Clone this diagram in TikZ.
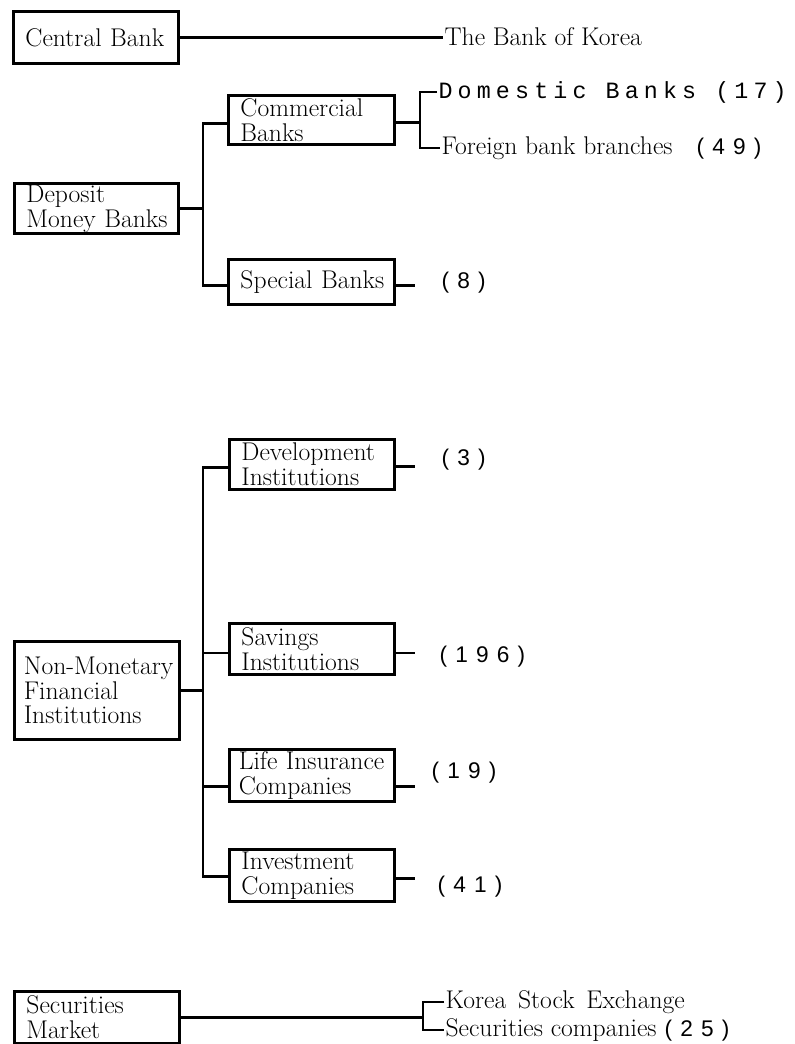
\documentclass[tikz,border=0pt]{standalone}
\usepackage{fontspec}
\newfontfamily\spnum[LetterSpace=36]{Liberation Sans}
\newfontfamily\dommono[LetterSpace=22]{Liberation Mono}
\newcommand{\mainfnt}{\fontsize{19.2}{18.6}\selectfont}
\newcommand{\numfnt}{\spnum\fontsize{17}{17}\selectfont}
\newcommand{\oneline}[1]{\mbox{#1}}
\begin{document}
\begin{tikzpicture}[x=0.75pt,y=-0.75pt,
  box/.style={draw, line width=2.2pt, anchor=north west, align=left, inner xsep=9pt, inner ysep=0pt, font=\mainfnt},
  conn/.style={line width=2.2pt},
  lbl/.style={anchor=west, inner sep=1pt, font=\mainfnt},
  num/.style={anchor=west, inner sep=1pt, font=\numfnt}]
\useasboundingbox (0,0) rectangle (794,1044);
\fill[white] (0,0) rectangle (794,1044);

% boxes
\node[box, text width=105.75pt, minimum height=39pt] (cb) at (12,10) {\oneline{Central Bank}};
\node[box, text width=106.5pt, minimum height=36.75pt] (com) at (227,94) {\oneline{Commercial}\\\oneline{Banks}};
\node[box, text width=105pt, minimum height=37.5pt] (dep) at (13,182) {\oneline{Deposit}\\\oneline{Money Banks}};
\node[box, text width=106.5pt, minimum height=33.75pt] (spec) at (227,258) {\oneline{Special Banks}};
\node[box, text width=105.75pt, minimum height=37.5pt] (dev) at (228,438) {\oneline{Development}\\\oneline{Institutions}};
\node[box, text width=105.75pt, minimum height=38.25pt] (sav) at (228,622) {\oneline{Savings}\\\oneline{Institutions}};
\node[box, inner xsep=7pt, text width=109.75pt, minimum height=73.5pt] (nmf) at (13,640) {\oneline{Non-Monetary}\\\oneline{Financial}\\\oneline{Institutions}};
\node[box, inner xsep=7pt, text width=109.75pt, minimum height=39pt] (life) at (228,748) {\oneline{Life Insurance}\\\oneline{Companies}};
\node[box, text width=105.75pt, minimum height=39pt] (inv) at (228,848) {\oneline{Investment}\\\oneline{Companies}};
\node[box, text width=105.75pt, minimum height=39pt] (sec) at (13,990) {\oneline{Securities}\\\oneline{Market}};

% labels
\node[lbl] (bok) at (443,37) {The Bank of Korea};
\node[anchor=west, inner sep=1pt, font=\dommono\fontsize{17.5}{17.5}\selectfont] (dom) at (437,92) {Domestic Banks (17)};
\node[lbl] (for) at (440,148) {Foreign bank branches\hspace{18pt}{\numfnt(49)}};
\node[num] (n8) at (440,283) {(8)};
\node[num] (n3) at (440,460) {(3)};
\node[num] (n196) at (438,657) {(196)};
\node[num] (n19) at (430,773) {(19)};
\node[num] (n41) at (436,887) {(41)};
\node[lbl] (kse) at (444,1002) {Korea\hspace{3pt} Stock\hspace{3pt} Exchange};
\node[lbl] (scom) at (444,1030) {Securities companies\hspace{6pt}{\numfnt(25)}};

% helper coordinates
\coordinate (ta) at (203,0);
\coordinate (sx) at (415,0);
\coordinate (bx) at (420,0);
\coordinate (bs) at (423,0);

% central bank
\draw[conn] (cb.east) -- (cb.east -| bok.west);

% deposit money banks
\coordinate (comL) at ([yshift=-2.5pt]com.west);
\coordinate (comR) at ([yshift=-2pt]com.east);
\coordinate (specL) at ([yshift=-3pt]spec.west);
\coordinate (specR) at ([yshift=-3pt]spec.east);
\draw[conn] (dep.east) -- (dep.east -| ta);
\draw[conn] (comL) -- (comL -| ta) -- (specL -| ta) -- (specL);
\draw[conn] (comR) -- (comR -| bx);
\draw[conn] (dom.west) -| (for.west -| bx) -- (for.west);
\draw[conn] (specR) -- (specR -| sx);

% non-monetary
\coordinate (devL) at ([yshift=-2.5pt]dev.west);
\coordinate (devR) at ([yshift=-1.5pt]dev.east);
\coordinate (savL) at ([yshift=-3pt]sav.west);
\coordinate (savR) at ([yshift=-3pt]sav.east);
\coordinate (lifeL) at ([yshift=-8pt]life.west);
\coordinate (lifeR) at ([yshift=-8pt]life.east);
\coordinate (invL) at ([yshift=-1pt]inv.west);
\coordinate (invR) at ([yshift=-2pt]inv.east);
\draw[conn] (nmf.east) -- (nmf.east -| ta);
\draw[conn] (devL) -- (devL -| ta) -- (invL -| ta) -- (invL);
\draw[conn] (savL -| ta) -- (savL);
\draw[conn] (lifeL -| ta) -- (lifeL);
\draw[conn] (devR) -- (devR -| sx);
\draw[conn] (savR) -- (savR -| sx);
\draw[conn] (lifeR) -- (lifeR -| sx);
\draw[conn] (invR) -- (invR -| sx);

% securities
\draw[conn] (sec.east) -- (sec.east -| bs);
\draw[conn] (kse.west) -| (scom.west -| bs) -- (scom.west);
\end{tikzpicture}
\end{document}
